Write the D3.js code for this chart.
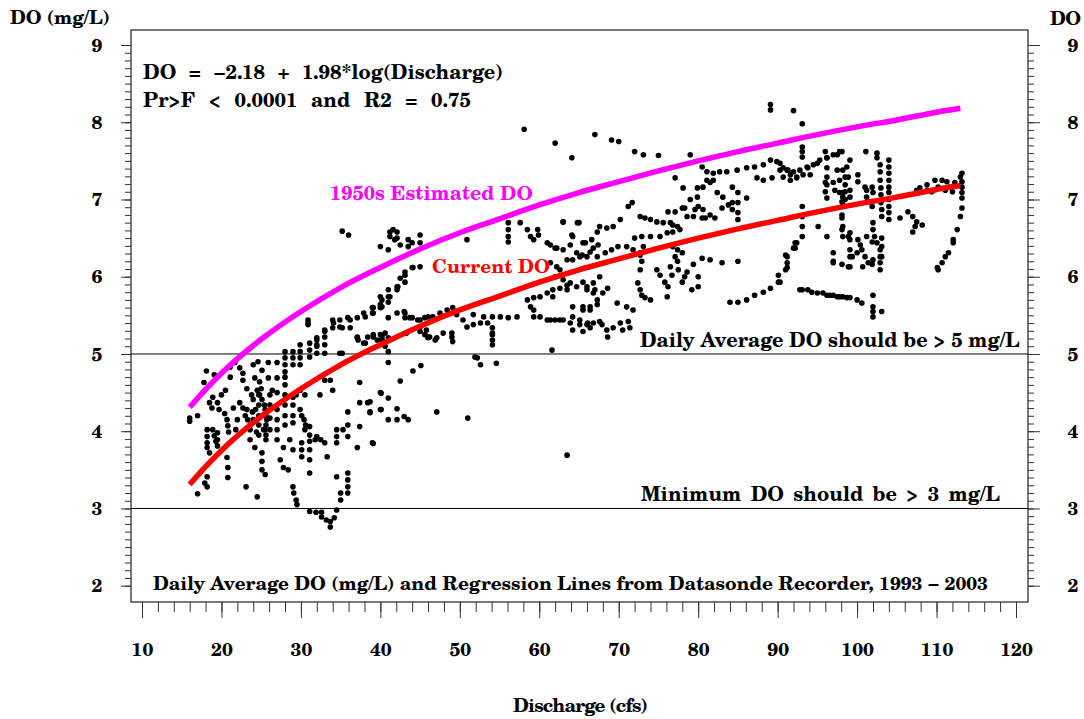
<!DOCTYPE html>
<html>
<head>
<meta charset="utf-8">
<script src="https://cdn.jsdelivr.net/npm/d3@7"></script>
<style>
  html, body { margin: 0; padding: 0; background: #ffffff; }
</style>
</head>
<body>
<script>
// ---------------- DATA ----------------
const xTickValues = [10, 20, 30, 40, 50, 60, 70, 80, 90, 100, 110, 120];
const yTickValues = [2, 3, 4, 5, 6, 7, 8, 9];
const guideLevels = [5, 3];

const curveDischarge = [16, 18, 20, 25, 30, 35, 40, 45, 50, 55, 60, 65, 70, 75, 80, 85, 90, 95, 100, 105, 110, 113];
const currentDO = [3.31, 3.54, 3.75, 4.19, 4.55, 4.86, 5.12, 5.36, 5.57, 5.75, 5.93, 6.09, 6.23, 6.37, 6.50, 6.62, 6.73, 6.84, 6.94, 7.03, 7.13, 7.18];
const estimated1950sDO = [4.31, 4.54, 4.75, 5.19, 5.55, 5.86, 6.12, 6.36, 6.57, 6.75, 6.93, 7.09, 7.23, 7.37, 7.50, 7.62, 7.73, 7.84, 7.94, 8.03, 8.13, 8.18];

// Daily average DO (mg/L) vs discharge (cfs)
const dailyPoints = [
 [16.0,4.17],[16.0,4.13],[17.0,4.20],[18.1,4.78],[18.9,4.44],[18.2,4.02],[18.2,3.93],[18.2,3.85],[18.2,3.79],[18.5,4.37],
 [18.8,4.30],[19.5,4.37],[19.7,4.28],[20.4,4.23],[18.9,4.02],[19.1,3.94],[19.3,3.87],[19.5,3.98],[19.5,3.89],[19.5,3.81],
 [20.7,4.15],[20.8,4.07],[20.9,3.99],[18.5,3.72],[18.2,3.41],[17.9,3.33],[18.2,3.28],[17.0,3.19],[20.7,3.66],[20.8,3.53],
 [20.8,3.40],[20.0,4.47],[20.5,4.53],[17.8,4.63],[19.1,4.73],
 [21.1,4.83],[21.7,4.89],[22.3,4.82],[22.7,4.75],[21.1,4.70],[22.7,4.66],[23.2,4.55],[22.3,4.37],[22.7,4.30],[23.2,4.28],
 [23.0,4.20],[23.3,4.15],[23.6,4.08],[23.6,4.02],[23.9,4.25],[24.0,4.86],[24.6,4.90],[25.1,4.79],[24.2,4.69],[24.8,4.64],
 [24.5,4.53],[24.8,4.47],[25.1,4.41],[25.4,4.34],[25.5,4.28],[25.6,4.20],[25.7,4.15],[25.6,4.08],[25.5,4.02],[25.6,3.95],
 [25.6,3.89],[24.7,4.47],[24.7,4.34],[24.7,4.20],[24.7,4.08],[24.7,3.95],[26.1,4.47],[26.1,4.34],[26.1,4.17],[26.1,4.02],
 [23.1,3.28],[24.5,3.15],[25.1,3.72],[25.1,3.61],[25.1,3.50],[25.5,3.44],[24.2,3.79],[23.6,3.89],[25.9,4.89],[25.9,4.69],
 [26.4,4.53],[24.0,4.41],[24.3,4.28],[24.0,4.15],[25.0,4.55],[25.3,4.02],[24.4,3.99],[23.8,4.47],[22.0,4.15],[21.5,4.30],
 [21.8,4.02],
 [27.0,4.89],[27.0,4.69],[27.0,4.50],[27.0,4.28],[27.0,4.15],[27.0,4.02],[27.0,3.89],[28.0,5.03],[28.0,4.95],[28.0,4.86],
 [28.0,4.77],[28.0,4.70],[28.0,4.60],[28.0,4.47],[28.0,4.34],[28.0,4.20],[28.0,4.08],[29.0,5.03],[29.0,4.95],[29.0,4.86],
 [29.0,4.44],[29.0,4.34],[29.0,4.20],[29.0,4.11],[28.6,3.89],[29.0,3.76],[29.0,3.28],[29.1,3.20],[29.4,3.11],[29.5,3.05],
 [27.8,3.79],[27.8,3.53],[27.4,3.63],[28.4,3.50],
 [29.9,5.12],[29.9,5.03],[29.9,4.95],[29.9,4.86],[31.1,5.14],[31.1,5.05],[31.1,4.96],[32.0,5.21],[32.0,5.12],[32.0,5.01],
 [33.0,5.31],[33.0,5.22],[33.0,5.12],[33.0,5.01],[29.9,4.28],[30.1,4.20],[30.4,4.15],[30.6,4.08],[30.1,3.85],[30.1,3.76],
 [30.1,3.67],[31.1,4.06],[31.1,3.95],[31.1,3.87],[31.1,3.76],[31.1,3.63],[30.5,4.02],[31.8,3.89],[32.0,3.93],[32.5,3.89],
 [33.0,3.85],[33.3,3.67],[31.1,3.46],[31.1,2.96],[31.9,2.95],[32.6,2.95],[32.6,2.89],[33.2,2.85],[33.7,2.83],[34.2,2.88],
 [33.7,2.76],[34.5,2.98],[35.0,3.11],[35.0,3.20],[29.9,4.53],[29.4,4.47],[30.5,4.47],[32.4,4.47],[33.0,4.66],
 [35.9,3.46],[35.9,3.37],[35.9,3.28],[35.9,3.20],[34.5,3.41],[34.5,4.02],[34.5,3.93],[34.5,3.85],[35.3,4.02],[33.7,4.66],
 [34.0,4.53],[35.9,4.25],[35.9,4.08],[35.9,3.93],[37.4,4.37],[37.4,4.06],[38.4,4.37],[38.7,4.24],[37.1,3.79],[39.0,3.85],
 [37.4,4.63],[34.9,5.01],[40.0,4.50],[40.0,4.28],[37.1,5.21],[37.9,5.14],[38.4,5.22],
 [30.9,5.44],[30.9,5.38],[32.0,5.18],[32.0,5.10],[33.0,5.29],[34.0,5.44],[34.0,5.34],[34.9,5.44],[35.2,5.34],[35.9,5.47],
 [36.2,5.34],[37.1,5.47],[38.1,5.48],[39.1,5.60],[39.1,5.53],[40.2,5.70],[40.2,5.61],[41.0,5.74],[42.1,5.87],[42.1,5.83],
 [43.1,6.06],[43.1,5.93],[44.0,6.12],[45.0,6.13],[42.5,5.98],
 [35.2,6.59],[36.0,6.54],[40.0,6.39],[41.0,6.35],[41.2,6.58],[41.6,6.61],[42.1,6.58],[41.2,6.52],[41.8,6.48],[42.5,6.41],
 [43.5,6.48],[44.0,6.44],[45.0,6.54],[45.0,6.44],[42.1,6.50],[43.5,6.39],
 [41.0,5.47],[42.1,5.53],[43.0,5.55],[43.1,5.47],[44.0,5.47],[45.0,5.44],[46.0,5.48],[37.1,5.22],[37.2,5.18],[38.1,5.14],
 [39.1,5.25],[40.0,5.25],[40.2,5.18],[41.0,5.03],[35.2,5.01],[45.0,5.29],[46.0,5.22],[39.0,5.53],[40.0,5.64],[40.0,5.60],
 [41.2,5.74],[41.0,5.67],
 [39.1,5.22],[39.6,5.18],[40.2,5.22],[41.0,5.21],[41.0,4.89],[42.5,4.65],[44.1,4.78],[45.1,4.85],[40.1,4.49],[41.0,4.43],
 [38.7,4.38],[38.7,4.25],[40.1,4.28],[41.0,4.15],[42.1,4.29],[42.1,4.15],[43.0,4.19],[43.5,4.15],[47.1,4.25],[51.0,4.17],
 [39.1,3.84],[52.2,4.95],[52.6,4.86],[54.6,4.88],[61.6,5.05],[63.5,3.69],[45.6,5.25],[46.0,5.21],[47.1,5.21],[47.9,5.27],
 [49.0,5.27],[49.0,5.22],[54.1,5.27],[54.1,5.18],[54.1,5.12],
 [50.9,6.48],[56.1,6.70],[56.1,6.61],[56.1,6.52],[56.1,6.45],[57.6,6.70],[58.5,6.61],[58.9,6.52],[59.8,6.61],[59.9,6.54],
 [59.3,6.48],[61.0,6.44],[62.0,6.37],[63.0,6.71],[65.0,6.70],[64.2,6.52],[65.5,6.44],[66.6,6.48],[67.3,6.58],[64.1,7.54],
 [44.1,6.12],[43.1,6.02],
 [43.1,5.53],[43.7,5.47],[44.7,5.44],[45.6,5.47],[46.6,5.48],[47.5,5.53],[48.4,5.57],[49.1,5.60],[49.6,5.51],[50.4,5.44],
 [51.7,5.51],[53.0,5.48],[54.1,5.48],[55.1,5.48],[56.1,5.47],[57.2,5.48],[50.9,5.35],[51.7,5.38],[52.6,5.40],[53.5,5.40],
 [45.0,5.35],[45.8,5.31],[46.2,5.22],[46.9,5.18],[49.1,5.16],[54.1,5.34],[54.1,5.25],[51.9,4.96],
 [58.5,5.70],[59.3,5.73],[60.1,5.74],[61.0,5.79],[61.7,5.83],[62.6,5.85],[63.5,5.89],[58.9,5.61],[59.3,5.57],[59.3,5.48],
 [60.1,5.48],[61.0,5.44],[62.0,5.44],[63.0,5.44],[64.2,5.48],[65.1,5.44],[66.0,5.38],[66.8,5.40],[67.6,5.42],[64.2,5.31],
 [65.5,5.29],[66.4,5.34],
 [62.2,6.13],[63.5,6.22],[64.2,6.22],[65.1,6.26],[66.4,6.32],[66.8,6.37],[67.4,6.41],[61.7,5.74],[63.5,5.83],
 [64.2,5.61],[65.5,5.61],[66.4,5.57],[67.3,5.70],[66.8,5.79],[66.0,5.87],
 [30.9,5.40],[34.1,5.40],[34.9,5.35],[36.2,5.44],[37.9,5.53],[39.0,5.60],[40.0,5.74],[41.0,5.83],[42.2,5.87],
 [40.6,5.27],[40.3,5.16],[40.6,5.10],[43.3,5.27],
 [89.1,8.23],[89.1,8.16],[92.0,8.15],[93.1,7.98],[67.0,7.84],[69.1,7.77],[70.0,7.75],[62.0,7.73],[72.0,7.62],[73.1,7.58],
 [75.0,7.57],[79.0,7.58],[58.1,7.91],
 [80.5,7.42],[81.1,7.36],[81.9,7.34],[82.7,7.36],[83.6,7.36],[84.9,7.38],[86.1,7.41],[87.1,7.42],[88.2,7.45],[89.1,7.51],
 [89.9,7.49],[90.7,7.41],[91.3,7.38],[92.0,7.36],[92.8,7.38],[93.8,7.41],[95.0,7.47],[96.2,7.54],[97.5,7.58],[98.1,7.62],
 [81.1,7.25],[81.9,7.25],[87.4,7.28],[88.2,7.25],[89.3,7.28],[90.7,7.29],[91.6,7.25],[92.4,7.29],[93.2,7.32],
 [79.9,7.15],[80.6,7.16],[81.5,7.22],[77.1,7.28],[78.1,7.15],
 [79.0,7.00],[79.9,7.03],[80.0,6.91],[78.3,6.89],[79.6,6.87],[80.6,6.87],[80.9,6.76],[82.1,6.76],
 [82.4,7.09],[83.1,7.03],[84.3,7.16],[84.3,6.96],[84.3,6.87],[85.0,7.09],[85.0,6.96],[85.0,6.83],[85.0,6.74],[83.0,6.89],
 [86.1,7.02],
 [93.1,7.62],[93.1,7.55],[93.1,6.91],[93.1,6.78],[93.1,6.65],[93.1,6.52],[92.4,6.44],[92.0,6.37],[91.2,6.26],[91.2,6.18],
 [91.0,6.09],[90.1,6.02],[90.1,5.93],[89.1,5.85],[88.2,5.80],[87.1,5.76],[86.1,5.70],[85.0,5.67],[84.0,5.67],
 [96.0,7.62],[96.2,7.54],[96.2,7.41],[96.2,7.29],[96.2,7.19],[96.0,7.10],[96.2,7.02],[97.5,7.38],[98.2,7.38],[98.5,7.29],
 [98.5,7.19],[98.5,7.10],[98.2,7.03],[98.2,6.93],
 [95.1,6.65],[96.2,6.52],[97.0,6.31],[97.0,6.18],[98.1,6.80],[98.2,6.65],[98.2,6.52],[99.1,6.26],[99.1,6.13],
 [92.8,5.83],[93.8,5.83],[95.0,5.79],[96.2,5.76],[97.0,5.76],[97.8,5.74],[98.7,5.73],
 [63.0,6.71],[64.1,6.54],[64.8,6.70],[65.8,6.44],[67.6,6.65],[68.5,6.63],[69.3,6.65],[70.2,6.74],[71.2,6.91],[71.7,6.96],
 [61.4,6.41],[62.2,6.37],[63.0,6.35],[63.9,6.41],[64.7,6.31],[65.4,6.28],[66.0,6.26],[67.3,6.26],[68.3,6.31],[69.1,6.35],
 [69.9,6.39],[71.0,6.39],[71.8,6.35],[72.7,6.31],
 [72.7,6.78],[73.3,6.76],[74.0,6.74],[74.8,6.71],[75.6,6.70],[76.5,6.70],[76.8,6.67],[77.4,6.65],[77.7,6.61],[76.8,6.58],
 [76.1,6.57],[75.2,6.52],[74.0,6.52],[72.9,6.52],[72.0,6.50],[73.1,6.39],
 [76.2,6.84],[77.1,6.84],[78.0,6.89],[78.6,6.78],[79.4,6.78],[80.5,6.76],[81.5,6.80],[83.8,6.93],
 [61.4,6.18],[62.6,6.09],[62.0,6.00],[63.0,5.96],[63.9,5.92],[64.7,5.87],[65.5,5.93],[66.0,5.83],[66.8,5.92],[67.6,6.00],
 [67.0,5.83],[68.0,5.79],[68.6,5.85],[69.8,5.66],[71.0,5.61],[71.8,5.57],
 [72.7,6.28],[72.9,6.20],[72.7,6.09],[72.4,5.92],[72.7,5.83],[72.9,5.76],[73.3,5.73],[74.0,5.70],
 [74.8,6.09],[75.2,6.02],[75.8,5.93],[76.2,5.87],[76.1,5.74],[76.5,6.13],[76.7,6.02],[77.1,6.26],[77.4,6.20],[77.5,6.09],
 [78.3,6.00],[78.6,6.06],[78.0,5.93],[79.4,6.16],[80.0,6.00],[80.0,5.87],[79.2,5.83],
 [76.8,6.39],[77.4,6.35],[78.0,6.31],[80.5,6.24],[81.5,6.22],[83.0,6.18],[85.0,6.20],
 [61.4,5.44],[62.6,5.44],[63.9,5.40],[65.1,5.38],[66.1,5.40],[67.9,5.38],[68.5,5.31],[69.3,5.34],[70.2,5.40],[71.2,5.42],
 [65.5,5.57],[66.4,5.61],[67.3,5.64],[68.6,5.22],[70.5,5.31],[71.4,5.34],
 [93.1,7.68],[90.3,7.47],[91.2,7.38],[93.7,7.42],[94.5,7.45],[95.3,7.51],[97.0,7.58],[97.8,7.62],[90.3,7.38],[91.6,7.32],
 [92.4,7.28],[94.1,7.32],[99.1,7.51],[101.1,7.62],[102.5,7.60],[102.5,7.54],
 [104.0,7.51],[104.0,7.42],[104.0,7.34],[104.0,7.25],[104.0,7.16],[104.0,7.09],[104.0,7.00],[104.0,6.91],[104.0,6.83],[104.0,6.74],
 [102.9,7.45],[102.9,7.36],[102.9,7.25],[103.0,7.15],[103.0,7.06],[103.0,6.96],[103.1,6.87],[103.1,6.78],
 [98.7,7.42],[98.9,7.29],[99.1,7.12],[97.8,7.25],[98.2,7.09],[99.1,7.03],[97.0,7.22],[97.2,7.12],[96.0,7.22],
 [100.1,7.32],[100.1,7.23],[101.0,7.16],[101.2,7.12],[101.9,7.16],[102.0,7.09],[97.8,7.09],[98.1,6.97],[98.5,7.00],
 [101.2,7.03],[101.6,6.97],[101.9,6.91],[98.1,6.76],[98.1,6.61],[98.9,6.52],
 [102.0,6.70],[102.0,6.61],[102.2,6.52],[102.5,6.44],[102.9,6.35],[102.9,6.26],[102.9,6.18],[102.9,6.09],[102.0,6.22],[101.4,6.18],
 [101.0,6.26],[100.6,6.35],[100.4,6.41],[100.1,6.48],[101.2,6.52],[101.9,6.45],[100.0,6.31],[99.4,6.26],[99.1,6.35],[99.1,6.48],
 [99.1,6.57],[97.0,6.20],[98.1,6.16],[98.9,6.13],[100.7,6.13],[101.9,6.16],[103.1,6.26],[103.1,6.39],[103.1,6.50],
 [105.4,6.76],[106.4,6.84],[107.0,6.78],[107.5,6.71],[107.3,6.65],[107.0,6.58],[108.2,6.67],[108.8,7.12],[109.6,7.12],[110.2,7.16],
 [111.1,7.12],[111.7,7.16],[112.3,7.22],[113.0,7.29],[113.2,7.23],[113.2,7.16],[113.2,7.09],[113.2,7.02],[113.2,6.89],[113.0,6.78],
 [112.6,6.61],[112.1,6.48],[112.1,6.44],[111.5,6.31],[111.1,6.26],[110.7,6.18],[110.2,6.09],[110.1,6.12],[113.2,7.34],
 [107.5,7.12],[107.9,7.15],[108.8,7.19],[109.4,7.10],[109.8,7.25],[110.7,7.25],[111.3,7.23],[112.0,7.10],
 [93.1,5.83],[94.3,5.80],[95.7,5.79],[96.6,5.76],[97.5,5.74],[98.2,5.74],[99.1,5.73],[100.0,5.70],[100.6,5.66],[102.0,5.76],
 [102.0,5.61],[102.0,5.55],[102.0,5.48],[103.1,5.55],
 [92.2,6.44],[92.2,6.37],[91.0,6.28],[91.2,6.12],[90.3,5.93]
];

// ---------------- LAYOUT ----------------
const W = 1084, H = 719;
const frame = { left: 131, top: 30, right: 1028, bottom: 602 };
const FONT = '"TeX Gyre Schola", "Century Schoolbook", "Liberation Serif", serif';

const svg = d3.select("body").append("svg")
  .attr("width", W).attr("height", H)
  .attr("viewBox", `0 0 ${W} ${H}`);

const x = d3.scaleLinear().domain([10, 120]).range([142, 1016]);
const y = d3.scaleLinear().domain([2, 9]).range([585.7, 45]);

function fontify(sel, size) {
  return sel.style("font-family", FONT).style("font-weight", "bold").style("font-size", size + "px");
}

// place a text and fit it to a target width: widen word gaps, or tighten letters if too wide
function label(px, py, str, opts = {}) {
  let size = opts.size || 20;
  const t = svg.append("text")
    .attr("x", px).attr("y", py)
    .attr("fill", opts.fill || "#000")
    .attr("text-anchor", opts.anchor || "start")
    .text(str);
  fontify(t, size);
  if (opts.len) {
    let w = t.node().getComputedTextLength();
    const gaps = (str.match(/ /g) || []).length;
    if (w > opts.len) {
      const f = Math.max(0.95, opts.len / w);
      size = size * f;
      t.style("font-size", size + "px");
      w = t.node().getComputedTextLength();
      if (w > opts.len) {
        t.style("letter-spacing", ((opts.len - w) / (str.length - 1)) + "px");
      }
    } else if (gaps > 0) {
      t.style("word-spacing", ((opts.len - w) / gaps) + "px");
    }
  }
  return t;
}

// frame
svg.append("rect")
  .attr("x", frame.left).attr("y", frame.top)
  .attr("width", frame.right - frame.left).attr("height", frame.bottom - frame.top)
  .attr("fill", "none").attr("stroke", "#222").attr("stroke-width", 1.2);

// guide lines at 5 and 3 mg/L
svg.append("g").selectAll("line").data(guideLevels).join("line")
  .attr("x1", frame.left).attr("x2", frame.right)
  .attr("y1", d => y(d)).attr("y2", d => y(d))
  .attr("stroke", "#000").attr("stroke-width", 1);

// axes
const xMinor = d3.range(10, 121, 2);
const yMinor = d3.range(20, 91, 1).map(v => v / 10);

function styleAxis(g) {
  g.select(".domain").remove();
  g.selectAll(".tick line").attr("stroke", "#333").attr("stroke-width", 1);
}

svg.append("g").attr("transform", `translate(0,${frame.bottom})`)
  .call(d3.axisBottom(x).tickValues(xMinor).tickSize(10).tickFormat(""))
  .call(styleAxis);
const xMajor = svg.append("g").attr("transform", `translate(0,${frame.bottom})`)
  .call(d3.axisBottom(x).tickValues(xTickValues).tickSize(16).tickPadding(24).tickFormat(d3.format("d")))
  .call(styleAxis);
fontify(xMajor.selectAll(".tick text"), 19).attr("fill", "#000").attr("dy", "0.72em");

svg.append("g").attr("transform", `translate(${frame.left},0)`)
  .call(d3.axisLeft(y).tickValues(yMinor).tickSize(6).tickFormat(""))
  .call(styleAxis);
const yLeft = svg.append("g").attr("transform", `translate(${frame.left},0)`)
  .call(d3.axisLeft(y).tickValues(yTickValues).tickSize(10).tickPadding(24).tickFormat(d3.format("d")))
  .call(styleAxis);
fontify(yLeft.selectAll(".tick text"), 19).attr("fill", "#000")
  .attr("text-anchor", "middle").attr("dx", "0");

svg.append("g").attr("transform", `translate(${frame.right},0)`)
  .call(d3.axisRight(y).tickValues(yMinor).tickSize(6).tickFormat(""))
  .call(styleAxis);
const yRight = svg.append("g").attr("transform", `translate(${frame.right},0)`)
  .call(d3.axisRight(y).tickValues(yTickValues).tickSize(12).tickPadding(33).tickFormat(d3.format("d")))
  .call(styleAxis);
fontify(yRight.selectAll(".tick text"), 19).attr("fill", "#000")
  .attr("text-anchor", "middle");

// points
svg.append("g").selectAll("circle").data(dailyPoints).join("circle")
  .attr("cx", d => x(d[0])).attr("cy", d => y(d[1]))
  .attr("r", 2.8).attr("fill", "#000");

// regression curves
const line = d3.line().x(d => x(d[0])).y(d => y(d[1])).curve(d3.curveMonotoneX);
svg.append("path")
  .attr("d", line(curveDischarge.map((q, i) => [q, estimated1950sDO[i]])))
  .attr("fill", "none").attr("stroke", "#ff00ff").attr("stroke-width", 5.5).attr("stroke-linecap", "butt");
svg.append("path")
  .attr("d", line(curveDischarge.map((q, i) => [q, currentDO[i]])))
  .attr("fill", "none").attr("stroke", "#ff0000").attr("stroke-width", 5.5).attr("stroke-linecap", "butt");

// texts
label(10, 24, "DO (mg/L)", { size: 20, len: 100 });
label(1050, 25, "DO", { size: 20, len: 31 });
label(143, 79, "DO = \u22122.18 + 1.98*log(Discharge)", { size: 20, len: 360 });
label(143, 107, "Pr>F < 0.0001 and R2 = 0.75", { size: 20, len: 328 });
label(330, 200, "1950s Estimated DO", { size: 20, len: 203, fill: "#ff00ff" });
label(432, 273, "Current DO", { size: 20, len: 118, fill: "#ff0000" });
label(640, 347, "Daily Average DO should be > 5 mg/L", { size: 20, len: 380 });
label(641, 501, "Minimum DO should be > 3 mg/L", { size: 20, len: 359 });
label(153, 590, "Daily Average DO (mg/L) and Regression Lines from Datasonde Recorder, 1993 \u2212 2003", { size: 20, len: 835 });
label(513, 712, "Discharge (cfs)", { size: 20, len: 135 });
</script>
</body>
</html>
